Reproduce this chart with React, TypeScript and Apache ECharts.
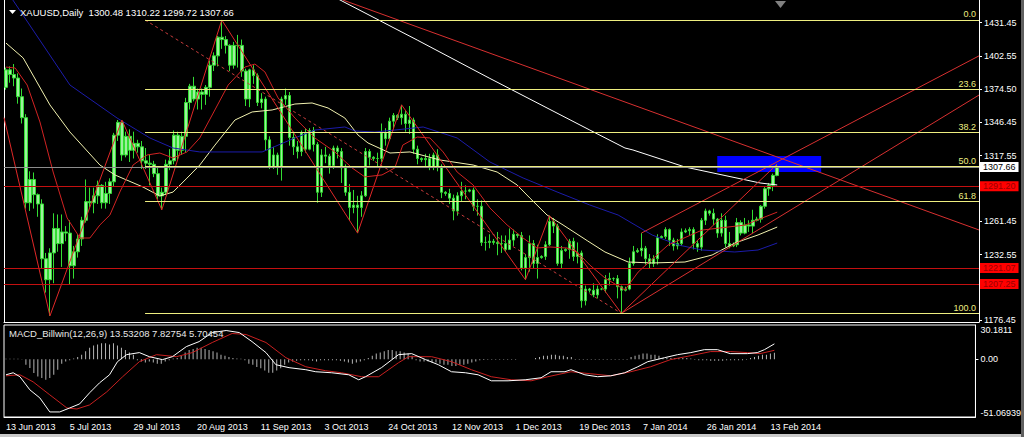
import React, { useEffect, useRef } from 'react';
import * as echarts from 'echarts';

const symbolName = 'XAUUSD,Daily';
const dateLabels = ['13 Jun 2013', '5 Jul 2013', '29 Jul 2013', '20 Aug 2013', '11 Sep 2013', '3 Oct 2013', '24 Oct 2013', '12 Nov 2013', '1 Dec 2013', '19 Dec 2013', '7 Jan 2014', '26 Jan 2014', '13 Feb 2014'];
const barsPerLabel = 16;
const lastSlot = 243.5;

// [open, close, low, high]
const candles = [
  [1376, 1391, 1374, 1393], [1391, 1387, 1380, 1394], [1387, 1384, 1377, 1396], [1384, 1368, 1362, 1388], [1368, 1350, 1345, 1375], [1350, 1277, 1272, 1353],
  [1277, 1297, 1270, 1304], [1297, 1284, 1272, 1303], [1284, 1276, 1265, 1285], [1276, 1229, 1221, 1280], [1229, 1211, 1200, 1234], [1211, 1234, 1180, 1238],
  [1234, 1255, 1208, 1268], [1255, 1242, 1235, 1267], [1242, 1252, 1222, 1267], [1252, 1251, 1244, 1257], [1251, 1223, 1207, 1262],
  [1223, 1235, 1212, 1240], [1235, 1246, 1230, 1250], [1246, 1262, 1240, 1265], [1262, 1278, 1260, 1297], [1278, 1277, 1273, 1290],
  [1277, 1283, 1268, 1290], [1283, 1292, 1276, 1296], [1292, 1277, 1272, 1293], [1277, 1285, 1272, 1295], [1285, 1295, 1276, 1298],
  [1295, 1335, 1291, 1337], [1335, 1346, 1330, 1348], [1346, 1318, 1313, 1348], [1318, 1334, 1316, 1338], [1334, 1322, 1312, 1340],
  [1322, 1328, 1315, 1338], [1328, 1325, 1320, 1331], [1325, 1313, 1306, 1330],
  [1313, 1311, 1306, 1324], [1311, 1310, 1292, 1318],
  [1310, 1302, 1299, 1313], [1302, 1283, 1280, 1307], [1283, 1286, 1271, 1290], [1286, 1310, 1284, 1314], [1310, 1313, 1305, 1323],
  [1313, 1335, 1310, 1339], [1335, 1322, 1314, 1338], [1322, 1334, 1318, 1338], [1334, 1363, 1320, 1367], [1363, 1377, 1357, 1379],
  [1377, 1366, 1364, 1385], [1366, 1372, 1357, 1375], [1372, 1370, 1357, 1375], [1370, 1376, 1361, 1378], [1376, 1395, 1368, 1399],
  [1395, 1403, 1390, 1406], [1403, 1419, 1394, 1420], [1419, 1417, 1409, 1433.8], [1417, 1412, 1405, 1420], [1412, 1395, 1390, 1413],
  [1395, 1412, 1392, 1415], [1412, 1412, 1393, 1421], [1412, 1390, 1385, 1417], [1390, 1366, 1360, 1392], [1366, 1391, 1359, 1392],
  [1391, 1386, 1379, 1395], [1386, 1363, 1360, 1388], [1363, 1366, 1358, 1371], [1366, 1331, 1322, 1368], [1331, 1308, 1306, 1334],
  [1308, 1318, 1306, 1325], [1318, 1308, 1301, 1320], [1308, 1366, 1296, 1368], [1366, 1369, 1361, 1375], [1369, 1333, 1326, 1372],
  [1333, 1325, 1318, 1338], [1325, 1321, 1315, 1330], [1321, 1337, 1317, 1339], [1337, 1323, 1320, 1341], [1323, 1339, 1322, 1341],
  [1339, 1327, 1321, 1342],
  [1327, 1286, 1277, 1329], [1286, 1318, 1282, 1323], [1318, 1317, 1311, 1325], [1317, 1309, 1302, 1319],
  [1309, 1324, 1306, 1326], [1324, 1321, 1315, 1326], [1321, 1307, 1294, 1324], [1307, 1286, 1283, 1310], [1286, 1273, 1262, 1293],
  [1273, 1275, 1268, 1288], [1275, 1273, 1251, 1283], [1273, 1283, 1265, 1287], [1283, 1321, 1282, 1324], [1321, 1316, 1309, 1323],
  [1316, 1315, 1313, 1317], [1315, 1315, 1307, 1320], [1315, 1337, 1312, 1345], [1337, 1332, 1326, 1341], [1332, 1347, 1330, 1350], [1347, 1352, 1340, 1354],
  [1352, 1350, 1348, 1353], [1350, 1353, 1344, 1361], [1353, 1345, 1338, 1356], [1345, 1348, 1336, 1360], [1348, 1323, 1319, 1350],
  [1323, 1315, 1310, 1326],
  [1315, 1314, 1312, 1316], [1314, 1315, 1307, 1319], [1315, 1308, 1305, 1319], [1308, 1318, 1305, 1320], [1318, 1308, 1304, 1323], [1308, 1286, 1281, 1310],
  [1286, 1285, 1283, 1287], [1285, 1281, 1276, 1289], [1281, 1270, 1262, 1284], [1270, 1283, 1266, 1286], [1283, 1287, 1278, 1295], [1287, 1287, 1280, 1292],
  [1287, 1288, 1286, 1289], [1288, 1274, 1270, 1290], [1274, 1274, 1266, 1280], [1274, 1243, 1240, 1279], [1243, 1243, 1236, 1248], [1243, 1244, 1238, 1250],
  [1244, 1243, 1241, 1246], [1243, 1242, 1232, 1252], [1242, 1242, 1234, 1249], [1242, 1237, 1235, 1249], [1237, 1245, 1237, 1255], [1245, 1250, 1240, 1254],
  [1250, 1249, 1247, 1251], [1249, 1221, 1219, 1252], [1221, 1230, 1211, 1233], [1230, 1242, 1218, 1249], [1242, 1225, 1221, 1245], [1225, 1230, 1212, 1241],
  [1230, 1231, 1229, 1232], [1231, 1241, 1228, 1244], [1241, 1261, 1240, 1266], [1261, 1257, 1251, 1264], [1257, 1225, 1223, 1259], [1225, 1236, 1221, 1240],
  [1236, 1237, 1235, 1238], [1237, 1244, 1229, 1246], [1244, 1231, 1227, 1247], [1231, 1234, 1225, 1243], [1234, 1193, 1187, 1236], [1193, 1203, 1189, 1206],
  [1203, 1202, 1200, 1204], [1202, 1198, 1196, 1208], [1198, 1203, 1195, 1206], [1203, 1203, 1202, 1204], [1203, 1211, 1200, 1215], [1211, 1212, 1206, 1217],
  [1212, 1212, 1210, 1213], [1212, 1205, 1195, 1215], [1205, 1202, 1182.2, 1206],
  [1202, 1203, 1201, 1205], [1203, 1225, 1202, 1230], [1225, 1235, 1223, 1240],
  [1235, 1236, 1234, 1238], [1236, 1238, 1231, 1251], [1238, 1229, 1224, 1240], [1229, 1225, 1221, 1233], [1225, 1229, 1222, 1232], [1229, 1247, 1224, 1250],
  [1247, 1248, 1246, 1249], [1248, 1254, 1246, 1256], [1254, 1245, 1240, 1255], [1245, 1240, 1236, 1247], [1240, 1242, 1237, 1246], [1242, 1252, 1240, 1255],
  [1252, 1253, 1251, 1255], [1253, 1254, 1249, 1256], [1254, 1242, 1237, 1256], [1242, 1239, 1235, 1245], [1239, 1262, 1236, 1264], [1262, 1270, 1258, 1272],
  [1270, 1268, 1266, 1271], [1268, 1263, 1258, 1272], [1263, 1251, 1247, 1264], [1251, 1262, 1248, 1268], [1262, 1242, 1239, 1266], [1242, 1240, 1238, 1252],
  [1240, 1241, 1239, 1243], [1241, 1260, 1239, 1264], [1260, 1251, 1249, 1262], [1251, 1258, 1250, 1264], [1258, 1257, 1252, 1262], [1257, 1262, 1251, 1271],
  [1262, 1263, 1261, 1265], [1263, 1274, 1260, 1275], [1274, 1289, 1272, 1291], [1289, 1292, 1283, 1294], [1292, 1300.48, 1287, 1302], [1300.48, 1307.66, 1299.72, 1310.22],
];

const priceTickMarks = [1176.45, 1204.5, 1232.55, 1261.45, 1289.5, 1317.55, 1346.45, 1374.5, 1402.55, 1431.45];
const priceTickLabels = [1176.45, 1232.55, 1261.45, 1317.55, 1346.45, 1374.5, 1402.55, 1431.45];
const priceMin = 1174.76;
const priceMax = 1450.92;
const bidPrice = 1307.66;
const redLevels = [1291.2, 1221.07, 1207.25];

const fibHigh = 1433.8;
const fibLow = 1182.2;
const fibStart = 34.8;
const fibLevels = [0, 23.6, 38.2, 50, 61.8, 100];
const fibTrend = [[34.8, 1433.8], [154, 1182.2]];

const zoneRect = [[178, 1317.1], [204, 1303.4]];

// moving averages, [bar index, price] knots
const maWhite = [[83, 1452], [102.9, 1416.6], [120.9, 1384], [146.1, 1339.4], [154.9, 1324], [156.9, 1322.3], [169.9, 1307.7], [188.7, 1294], [193, 1292.3]];
const maYellow = [[0, 1414], [4.3, 1401.2], [11, 1360.9], [16, 1337.7], [23.5, 1309.4], [27.3, 1300.8], [34.3, 1290.5], [38.5, 1282.8], [41.8, 1286.2], [45.3, 1298.2], [48.5, 1309.4], [52.3, 1326.5], [57.3, 1348], [61.6, 1354.9], [66.6, 1356.6], [72.3, 1361.7], [76.6, 1362.6], [80.6, 1358.3], [84.8, 1349.7], [88.1, 1335.1], [90.6, 1328.3], [96.1, 1319.7], [101.1, 1320.6], [108.6, 1313.7], [116.9, 1309.4], [122.9, 1303.4], [127.9, 1292.3], [131.1, 1281.1], [135.4, 1266.5], [139.4, 1258], [145.6, 1244.2], [149.9, 1234.8], [155.7, 1226.2], [161.7, 1225.4], [169.9, 1226.2], [176.7, 1232.2], [182.4, 1242.5], [188.2, 1249.4], [193, 1256.2]];
const maBlue = [[1.5, 1452], [16, 1378], [27.8, 1349.7], [36, 1332.6], [41.8, 1324], [48.5, 1320.6], [64.1, 1320.6], [72.3, 1332.6], [77.3, 1339.4], [84.8, 1342], [87.3, 1338.6], [92.3, 1337.7], [97.3, 1339.4], [104.4, 1342], [112.9, 1332.6], [121.1, 1312], [129.4, 1298.3], [137.9, 1286.3], [146.1, 1275.1], [153.2, 1266.5], [161.7, 1249.4], [168.2, 1240.8], [174.2, 1236.5], [182.4, 1234.8], [188.2, 1236.5], [193, 1242.5]];
const maRed = [[0, 1393.4], [2.3, 1392.6], [5.3, 1378], [8.5, 1346.3], [11.8, 1303.4], [15.3, 1264], [18.5, 1246.8], [21, 1246.8], [23.5, 1258], [26, 1266.5], [28.5, 1286.3], [31.8, 1309.4], [35.3, 1318], [38.5, 1319.7], [41.8, 1315.4], [45.3, 1320.6], [48.5, 1332.6], [51.6, 1352.3], [55.6, 1378], [59.8, 1393.4], [62.3, 1396], [64.8, 1389.2], [68.1, 1366.9], [72.3, 1349.7], [77.3, 1332.6], [82.3, 1320.6], [86.6, 1306.9], [89.8, 1299.2], [94.1, 1300.9], [97.3, 1306.9], [99.3, 1326.5], [102.9, 1333.4], [106.1, 1332.6], [109.4, 1320.6], [112.9, 1303.4], [116.9, 1292.3], [121.1, 1272.6], [125.4, 1258], [129.4, 1246.8], [132.9, 1238.2], [136.1, 1239.1], [140.4, 1238.2], [142.9, 1234.8], [146.1, 1223.6], [149.9, 1212.5], [154.9, 1202.2], [158.2, 1217.6], [165.7, 1240.8], [174.2, 1253.6], [180.7, 1256.2], [185, 1257.9], [189.2, 1263.9], [193, 1269]];

const zigzag = [[-0.5, 1350], [11, 1180], [29, 1348], [39, 1271], [54, 1433.8], [88, 1251], [99, 1361], [130, 1211], [136, 1266], [154, 1182.2], [193, 1310.22]];
const trendA = [[159, 1251], [243.5, 1403]];
const trendB = [[154, 1182.2], [243.5, 1369.4]];
const trendD = [[84.3, 1450.9], [243.5, 1253.7]];

// MACD pane
const macdMain = [[0, -13.8], [1.8, -12], [3.5, -15.5], [6, -27.1], [8.5, -34.2], [11, -46.6], [13.5, -46.6], [16, -43.1], [18.5, -39.5], [21, -29.7], [23.5, -20.9], [26, -13.8], [28, -2.2], [30.3, 4], [33.5, 5.8], [36, 2.2], [39.3, -0.4], [41.8, 2.2], [45.3, 11.1], [48.5, 15.5], [51.8, 23.5], [55.3, 25.3], [58.6, 23.5], [61.8, 15.5], [65.3, 5.8], [67.8, -4.9], [71.1, -7.5], [75.3, -9.3], [77.8, -11.1], [81.8, -12], [86.1, -13.8], [88.6, -18.2], [90.3, -15.5], [94.3, -7.5], [98.6, 4], [101.9, 4.9], [105.4, -0.4], [108.6, -4.9], [111.9, -11.1], [115.4, -12], [118.6, -13.8], [121.9, -19.1], [126.1, -19.1], [130.4, -18.2], [134.4, -16.4], [136.9, -11.1], [140.4, -11.1], [141.9, -9.3], [145.4, -13.8], [148.6, -15.5], [151.9, -14.7], [155.4, -12], [158.7, -6.7], [161.2, -2.2], [165.4, 1.3], [168.7, 4], [172, 5.8], [175.4, 8.4], [178.7, 8.4], [181.9, 4.9], [186.2, 4.9], [188.7, 5.8], [190.5, 8.4], [193, 13.53208]];
const macdSignal = [[0, -14.7], [3.5, -13.8], [6.8, -20], [11, -31.5], [15.3, -43.1], [17.8, -44], [21, -40.4], [25.3, -28.9], [29.3, -15.5], [33.5, -2.2], [37.8, 4], [42.8, 2.2], [46.8, 5.8], [51.8, 14.7], [56.8, 22.7], [60.3, 21.8], [65.3, 14.7], [70.3, 1.3], [75.3, -6.7], [80.3, -10.2], [84.3, -12], [89.3, -15.5], [93.6, -15.5], [98.6, -3.1], [101.1, 2.2], [106.9, 2.2], [111.9, -2.2], [116.9, -9.3], [121.9, -15.5], [126.9, -18.2], [131.9, -19.1], [136.1, -15.5], [141.9, -11.1], [146.9, -12.9], [151.9, -14.7], [156.9, -11.1], [161.9, -6.7], [166.9, -0.4], [172, 3.1], [177, 6.7], [181.9, 6.7], [186.2, 5.8], [189.4, 4.9], [193, 7.82754]];
const macdHist = [
  0.3, 0.3, 0.4, 0.3, 0.2,
  -4.9, -7.8, -12.3, -15.2, -16.7, -18.2, -16.7, -13.8, -9.3,
  -4, -2, -1, 0.5, 2, 4,
  7, 10, 12, 13, 14, 14, 13, 14, 12, 10, 8, 6, 4,
  -1, -2, -3, -2,
  -3, -4, -4, -2, -1,
  0.5, 1,
  3, 6, 8, 9, 10, 10, 9, 8, 7, 6, 4, 3, 2, 1,
  0.5, 0.3, -1,
  -4, -5, -7, -8, -10, -12, -12, -10, -8,
  -5, -3,
  -2, -1.5, -1, -1, -1, -1.5, -2, -1, -1, -1, -1, -1, -1.5,
  -2, -3, -4, -3, -2, -1,
  1, 3, 5, 6, 7, 8, 8, 7, 7, 6, 5, 3,
  -1, -2, -2, -2, -3, -3,
  -4, -5, -5, -6, -6, -5, -5, -4, -3, -2,
  -1, -0.8, -0.6, -0.5, -0.5, -0.5, -0.5, -0.5, -0.5, -0.5,
  null, null, null, null,
  1, 2, 3, 3, 4, 4, 3, 3, 2, 2,
  -0.5, -0.5, -0.5, -0.5, -0.5, -0.5, -0.5, -0.5, -0.5, -0.5, -0.5, -0.5, -0.5, -0.5,
  2, 3, 4, 5, 5, 4, 4, 3,
  1, 1, 1, 1, 1, 1, 1, 0.5,
  -0.5, -1, -1, -1, -1.5, -1.5, -1.5, -1.5, -1, -1, -1, -1, -1, -0.5,
  1, 2, 3, 4, 4, 5, 5.70454,
];
const macdName = 'MACD_Billwin(12,26,9)';
const macdValues = ['13.53208', '7.82754', '5.70454'];
const macdTicks = [-51.06939, 0, 30.1811];
const macdTickLabels = ['-51.06939', '0.00', '30.1811'];

const FONT = 'Liberation Sans';
const FIB_COLOR = '#eeee80';

export default function App() {
  const ref = useRef<HTMLDivElement>(null);
  useEffect(() => {
    if (!ref.current) return;
    const chart = echarts.init(ref.current, null, { renderer: 'svg' });
    const last = candles[candles.length - 1];
    const header = `${symbolName}  ${last[0].toFixed(2)} ${last[3].toFixed(2)} ${last[2].toFixed(2)} ${last[1].toFixed(2)}`;
    const fibPrice = (l: number) => fibHigh - (fibHigh - fibLow) * l / 100;
    const labelIdx = dateLabels.map((_, k) => k * barsPerLabel);
    const whiteLine = { show: true, onZero: false, lineStyle: { color: '#ffffff' } };
    const lineSeries = (name: string, data: number[][], color: string, z = 4, extra: any = {}) => ({
      name, type: 'line', xAxisIndex: 0, yAxisIndex: 0, data, showSymbol: false, symbol: 'none',
      lineStyle: { color, width: 1, ...(extra.lineStyle || {}) }, z, silent: true, clip: true,
    });
    const option: any = {
      animation: false,
      backgroundColor: '#000000',
      textStyle: { fontFamily: FONT },
      title: [
        { text: header, left: 20, top: 7, padding: 0, textStyle: { color: '#ffffff', fontSize: 9.5, fontWeight: 'normal', fontFamily: FONT } },
        { text: `${macdName} ${macdValues.join(' ')}`, left: 9, top: 328, padding: 0, textStyle: { color: '#e8e8e8', fontSize: 9.5, fontWeight: 'normal', fontFamily: FONT } },
      ],
      grid: [
        { left: 4, top: 0, width: 975, height: 322, show: false },
        { left: 4, top: 325, width: 975, height: 92, show: true, borderColor: '#ffffff', borderWidth: 1, backgroundColor: 'transparent' },
      ],
      xAxis: [
        { type: 'value', gridIndex: 0, min: -0.5, max: lastSlot, axisLine: whiteLine, axisTick: { show: false }, axisLabel: { show: false }, splitLine: { show: false } },
        {
          type: 'value', gridIndex: 1, min: -0.5, max: lastSlot, axisLine: whiteLine, axisTick: { show: false }, splitLine: { show: false },
          axisLabel: { customValues: labelIdx, formatter: (v: number) => dateLabels[Math.round(v / barsPerLabel)] || '', align: 'left', color: '#ffffff', fontSize: 9, fontFamily: FONT, margin: 5 },
        },
      ],
      yAxis: [
        {
          type: 'value', gridIndex: 0, position: 'right', min: priceMin, max: priceMax, splitLine: { show: false },
          axisLine: whiteLine,
          axisTick: { show: true, customValues: priceTickMarks, length: 3, lineStyle: { color: '#ffffff' } },
          axisLabel: { customValues: priceTickLabels, formatter: (v: number) => v.toFixed(2), color: '#ffffff', fontSize: 9, fontFamily: FONT, margin: 5 },
        },
        { type: 'value', gridIndex: 0, position: 'left', min: priceMin, max: priceMax, splitLine: { show: false }, axisLine: whiteLine, axisTick: { show: false }, axisLabel: { show: false } },
        {
          type: 'value', gridIndex: 1, position: 'right', min: macdTicks[0], max: macdTicks[2], splitLine: { show: false },
          axisLine: whiteLine,
          axisTick: { show: true, customValues: [0], length: 3, lineStyle: { color: '#ffffff' } },
          axisLabel: {
            customValues: macdTicks, formatter: (v: number) => macdTickLabels[macdTicks.indexOf(v)] ?? String(v),
            color: '#ffffff', fontSize: 9, fontFamily: FONT, margin: 5, verticalAlignMinLabel: 'bottom', verticalAlignMaxLabel: 'top',
          },
        },
      ],
      graphic: [
        { type: 'polygon', shape: { points: [[9, 10], [16, 10], [12.5, 14]] }, style: { fill: '#ffffff' }, silent: true },
        { type: 'polygon', shape: { points: [[775, 1], [786, 1], [780.5, 8]] }, style: { fill: '#808080' }, silent: true },
        { type: 'rect', shape: { x: 0, y: 434, width: 1021, height: 3 }, style: { fill: '#c8c8c8' }, silent: true },
        { type: 'rect', shape: { x: 1021, y: 0, width: 3, height: 437 }, style: { fill: '#606060' }, silent: true },
      ],
      series: [
        {
          name: 'objects', type: 'line', xAxisIndex: 0, yAxisIndex: 0, data: [], z: 1, silent: true,
          markArea: { silent: true, itemStyle: { color: '#0000ff', opacity: 1 }, data: [[{ coord: zoneRect[0] }, { coord: zoneRect[1] }]] },
          markLine: {
            silent: true, symbol: ['none', 'none'], animation: false,
            data: [
              { yAxis: bidPrice, lineStyle: { color: '#8c8c8c', width: 1, type: 'solid' }, label: { show: true, position: 'end', distance: 1, formatter: bidPrice.toFixed(2), color: '#000000', backgroundColor: '#ffffff', padding: [1, 3, 0, 3], fontSize: 9, fontFamily: FONT } },
              ...redLevels.map((v) => ({ yAxis: v, lineStyle: { color: '#c41010', width: 1, type: 'solid' }, label: { show: true, position: 'end', distance: 1, formatter: v.toFixed(2), color: '#990000', backgroundColor: '#ff0000', padding: [1, 3, 0, 3], fontSize: 9, fontFamily: FONT } })),
              ...fibLevels.map((l) => [
                { coord: [fibStart, fibPrice(l)], lineStyle: { color: FIB_COLOR, width: 1, type: 'solid' }, label: { show: true, position: 'insideEndTop', distance: [3, 1], formatter: l.toFixed(1), color: FIB_COLOR, fontSize: 9, fontFamily: FONT } },
                { coord: [lastSlot, fibPrice(l)] },
              ]),
            ],
          },
        },
        {
          name: 'XAUUSD', type: 'candlestick', xAxisIndex: 0, yAxisIndex: 0, z: 2, silent: true, barWidth: 3,
          data: candles.map((c, i) => [i, c[0], c[1], c[2], c[3]]),
          encode: { x: 0, y: [1, 2, 3, 4] },
          itemStyle: { color: '#9cf09c', color0: '#9cf09c', borderColor: '#33dd33', borderColor0: '#33dd33', borderWidth: 1 },
        },
        lineSeries('MA white', maWhite, '#ffffff'),
        lineSeries('MA yellow', maYellow, '#f2f2b0'),
        lineSeries('MA blue', maBlue, '#1c1caa'),
        lineSeries('MA red', maRed, '#d22323'),
        lineSeries('ZigZag', zigzag, '#e02828'),
        lineSeries('Trend A', trendA, '#d83030'),
        lineSeries('Trend B', trendB, '#d83030'),
        lineSeries('Trend D', trendD, '#d83030'),
        lineSeries('Fibo trend', fibTrend, '#c83c3c', 4, { lineStyle: { type: [3, 3] } }),
        {
          name: 'MACD hist', type: 'bar', xAxisIndex: 1, yAxisIndex: 2, barWidth: 1, silent: true,
          data: macdHist.map((v, i) => [i, v]).filter((d) => d[1] !== null),
          itemStyle: { color: '#b4b4b4' },
        },
        { name: 'MACD', type: 'line', xAxisIndex: 1, yAxisIndex: 2, data: macdMain, showSymbol: false, symbol: 'none', lineStyle: { color: '#ffffff', width: 1 }, silent: true, z: 4 },
        { name: 'Signal', type: 'line', xAxisIndex: 1, yAxisIndex: 2, data: macdSignal, showSymbol: false, symbol: 'none', lineStyle: { color: '#c82020', width: 1 }, silent: true, z: 3 },
      ],
    };
    chart.setOption(option);
    return () => chart.dispose();
  }, []);
  return <div ref={ref} style={{ position: 'fixed', left: 0, top: 0, width: 1024, height: 437, background: '#000' }} />;
}
